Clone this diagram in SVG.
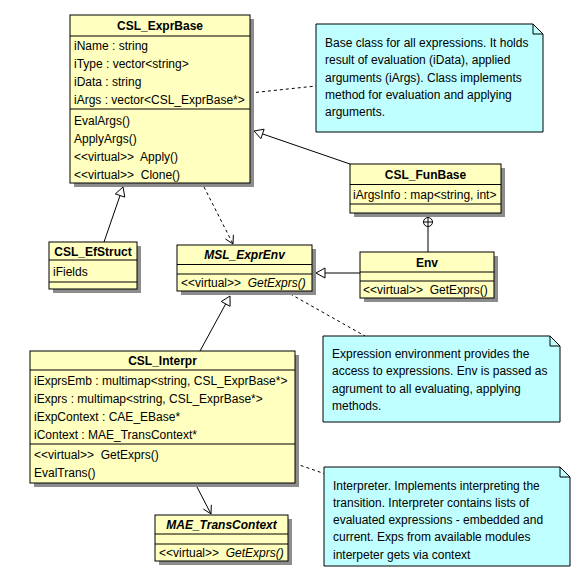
<svg xmlns="http://www.w3.org/2000/svg" width="581" height="579" viewBox="0 0 581 579">
<style>
.sh{fill:#8c8c8c}
.box{fill:#ffffc0;stroke:#000;stroke-width:1}
.sep{stroke:#000;stroke-width:1}
.note{fill:#c0ffff;stroke:#000;stroke-width:1}
text{font-family:"Liberation Sans",Arial,sans-serif;font-size:12px;fill:#000}
.tt{font-weight:bold;text-anchor:middle}
.it{font-style:italic}
.ln{fill:none;stroke:#000;stroke-width:1}
.dl{fill:none;stroke:#000;stroke-width:1;stroke-dasharray:3,3}
.tri{fill:#fff;stroke:#000;stroke-width:1}
</style>
<rect width="581" height="579" fill="#fff"/>
<g id="connectors">
<line class="ln" x1="104" y1="242" x2="120.06" y2="195.51"/>
<polygon class="tri" points="123,187 124.79,197.14 115.33,193.88"/>
<line class="ln" x1="350" y1="164" x2="262.51" y2="133.93"/>
<polygon class="tri" points="254,131 264.14,129.20 260.88,138.66"/>
<line class="ln" x1="360" y1="273" x2="325" y2="273"/>
<polygon class="tri" points="316,273 325,268 325,278"/>
<line class="ln" x1="200" y1="351" x2="225.69" y2="303.9"/>
<polygon class="tri" points="230,296 230.08,306.29 221.3,301.51"/>
<line class="dl" x1="204" y1="187" x2="233" y2="244"/>
<polyline class="ln" points="225.36,238.91 233,244 233.38,234.83"/>
<line class="ln" x1="197" y1="487" x2="211" y2="514"/>
<polyline class="ln" points="203.32,508.97 211,514 211.32,504.83"/>
<line class="ln" x1="428" y1="226.5" x2="428" y2="252"/>
<circle class="tri" cx="428" cy="222" r="4.5"/>
<line class="ln" x1="423.5" y1="222" x2="432.5" y2="222"/>
<line class="ln" x1="428" y1="217.5" x2="428" y2="226.5"/>
<line class="dl" x1="250" y1="93" x2="316" y2="86"/>
<line class="dl" x1="285" y1="291" x2="365" y2="336"/>
<line class="dl" x1="295" y1="463.5" x2="324" y2="473.5"/>
</g>
<g id="CSL_ExprBase">
<rect class="sh" x="74" y="19" width="180" height="168"/>
<rect class="box" x="70" y="15" width="180" height="168"/>
<line class="sep" x1="70" y1="36" x2="250" y2="36"/>
<line class="sep" x1="70" y1="109" x2="250" y2="109"/>
<text class="tt" x="160" y="29.5">CSL_ExprBase</text>
<text x="74" y="49.5">iName : string</text>
<text x="74" y="67.5">iType : vector&lt;string&gt;</text>
<text x="74" y="85.5">iData : string</text>
<text x="74" y="103.5">iArgs : vector&lt;CSL_ExprBase*&gt;</text>
<text x="74" y="124.5">EvalArgs()</text>
<text x="74" y="142.5">ApplyArgs()</text>
<text x="74" y="160.5" xml:space="preserve">&lt;&lt;virtual&gt;&gt;  Apply()</text>
<text x="74" y="178.5" xml:space="preserve">&lt;&lt;virtual&gt;&gt;  Clone()</text>
</g>
<g id="note_exprbase">
<path class="note" d="M316,24 H533 L543,34 V132 H316 Z"/>
<path class="ln" d="M533,24 V34 H543"/>
<text x="325" y="47">Base class for all expressions. It holds</text>
<text x="325" y="64.3">result of evaluation (iData), applied</text>
<text x="325" y="81.6">arguments (iArgs). Class implements</text>
<text x="325" y="98.9">method for evaluation and applying</text>
<text x="325" y="116.2">arguments.</text>
</g>
<g id="CSL_FunBase">
<rect class="sh" x="354" y="168" width="151" height="49"/>
<rect class="box" x="350" y="164" width="151" height="49"/>
<line class="sep" x1="350" y1="184.5" x2="501" y2="184.5"/>
<line class="sep" x1="350" y1="204" x2="501" y2="204"/>
<text class="tt" x="425.5" y="179">CSL_FunBase</text>
<text x="353" y="198.5">iArgsInfo : map&lt;string, int&gt;</text>
</g>
<g id="Env">
<rect class="sh" x="364" y="256" width="134" height="46"/>
<rect class="box" x="360" y="252" width="134" height="46"/>
<line class="sep" x1="360" y1="272" x2="494" y2="272"/>
<line class="sep" x1="360" y1="281" x2="494" y2="281"/>
<text class="tt" x="427" y="266.5">Env</text>
<text x="363" y="294" xml:space="preserve">&lt;&lt;virtual&gt;&gt;  GetExprs()</text>
</g>
<g id="CSL_EfStruct">
<rect class="sh" x="53" y="246" width="88" height="47"/>
<rect class="box" x="49" y="242" width="88" height="47"/>
<line class="sep" x1="49" y1="260" x2="137" y2="260"/>
<line class="sep" x1="49" y1="282" x2="137" y2="282"/>
<text class="tt" x="93" y="255.5">CSL_EfStruct</text>
<text x="53" y="276">iFields</text>
</g>
<g id="MSL_ExprEnv">
<rect class="sh" x="181" y="249" width="135" height="46"/>
<rect class="box" x="177" y="245" width="135" height="46"/>
<line class="sep" x1="177" y1="264.5" x2="312" y2="264.5"/>
<line class="sep" x1="177" y1="274" x2="312" y2="274"/>
<text class="tt it" x="244.5" y="259">MSL_ExprEnv</text>
<text x="181" y="287" xml:space="preserve">&lt;&lt;virtual&gt;&gt;  <tspan class="it">GetExprs()</tspan></text>
</g>
<g id="note_exprenv">
<path class="note" d="M323,336 H550 L560,346 V422 H323 Z"/>
<path class="ln" d="M550,336 V346 H560"/>
<text x="332" y="357.5">Expression environment provides the</text>
<text x="332" y="375">access to expressions. Env is passed as</text>
<text x="332" y="392.5">agrument to all evaluating, applying</text>
<text x="332" y="410">methods.</text>
</g>
<g id="CSL_Interpr">
<rect class="sh" x="34" y="355" width="265" height="132"/>
<rect class="box" x="30" y="351" width="265" height="132"/>
<line class="sep" x1="30" y1="370" x2="295" y2="370"/>
<line class="sep" x1="30" y1="444" x2="295" y2="444"/>
<text class="tt" x="162.5" y="365">CSL_Interpr</text>
<text x="34" y="384.5">iExprsEmb : multimap&lt;string, CSL_ExprBase*&gt;</text>
<text x="34" y="402.5">iExprs : multimap&lt;string, CSL_ExprBase*&gt;</text>
<text x="34" y="420.5">iExpContext : CAE_EBase*</text>
<text x="34" y="438.5">iContext : MAE_TransContext*</text>
<text x="34" y="458.5" xml:space="preserve">&lt;&lt;virtual&gt;&gt;  GetExprs()</text>
<text x="34" y="476.5">EvalTrans()</text>
</g>
<g id="MAE_TransContext">
<rect class="sh" x="159" y="519" width="133" height="46"/>
<rect class="box" x="155" y="515" width="133" height="46"/>
<line class="sep" x1="155" y1="534" x2="288" y2="534"/>
<line class="sep" x1="155" y1="544" x2="288" y2="544"/>
<text class="tt it" x="221.5" y="528.5">MAE_TransContext</text>
<text x="159" y="557" xml:space="preserve">&lt;&lt;virtual&gt;&gt;  <tspan class="it">GetExprs()</tspan></text>
</g>
<g id="note_interpr">
<path class="note" d="M324,467 H560 L570,477 V566 H324 Z"/>
<path class="ln" d="M560,467 V477 H570"/>
<text x="333" y="489.5">Interpreter. Implements interpreting the</text>
<text x="333" y="506.8">transition. Interpreter contains lists of</text>
<text x="333" y="524.1">evaluated expressions - embedded and</text>
<text x="333" y="541.4">current. Exps from available modules</text>
<text x="333" y="558.7">interpeter gets via context</text>
</g>
</svg>
